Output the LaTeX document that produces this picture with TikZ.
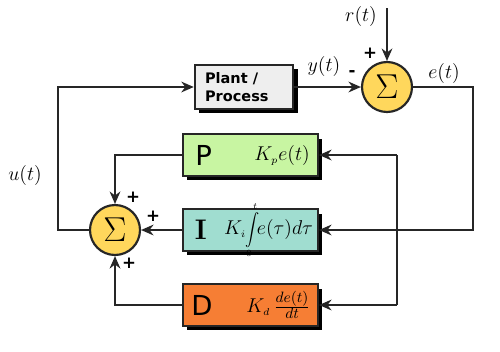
\documentclass[tikz,border=0pt]{standalone}
\usepackage{fontspec}
\newfontfamily\dv{DejaVu Sans}
\usetikzlibrary{arrows.meta,shadows}
\definecolor{pgreen}{HTML}{C8F5A2}
\definecolor{iteal}{HTML}{A0DDD0}
\definecolor{dorange}{HTML}{F67E34}
\definecolor{sumyel}{HTML}{FFD75C}
\definecolor{plantgray}{HTML}{EEEEEE}
\begin{document}
\begin{tikzpicture}[x=0.6pt,y=-0.6pt,
  blk/.style={draw=black!85, line width=1.3pt, inner sep=0pt,
    minimum width=81pt, minimum height=25pt,
    drop shadow={shadow xshift=2.6pt, shadow yshift=-2.6pt, fill=black, opacity=1}},
  sumc/.style={circle, draw=black!85, line width=1.3pt, fill=sumyel, minimum size=30pt,
    inner sep=0pt, font=\fontsize{20}{20}\selectfont},
  conn/.style={line width=0.9pt, draw=black!85},
  arr/.style={conn, -{Stealth[length=7.5pt,width=6.5pt]}},
  sig/.style={font=\dv\bfseries\fontsize{10}{10}\selectfont, inner sep=0pt},
  lbl/.style={font=\fontsize{13}{15}\selectfont, inner sep=0pt},
  letter/.style={font=\dv\fontsize{16.5}{16.5}\selectfont, inner sep=0pt, anchor=west},
  gain/.style={font=\fontsize{12.5}{14}\selectfont, inner sep=0pt, anchor=east}
]
\useasboundingbox (0,0) rectangle (500,351);

% blocks
\node[blk, fill=plantgray, minimum width=59pt, minimum height=26.4pt] (plant) at (244,87) {};
\node[anchor=west, inner sep=0pt, align=left, font=\dv\bfseries\fontsize{8.7}{10.5}\selectfont] (plantlbl) at ([xshift=6.6pt]plant.west) {Plant /\\Process};

\node[blk, fill=pgreen] (P) at (250.5,155) {};
\node[blk, fill=iteal] (I) at (250.5,230) {};
\node[blk, fill=dorange] (D) at (250.5,305) {};

\node[letter] (Pl) at ([xshift=7.8pt]P.west) {P};
\node[letter, font=\bfseries\fontsize{17}{17}\selectfont] (Il) at ([xshift=7.5pt]I.west) {I};
\node[letter] (Dl) at ([xshift=5.5pt]D.west) {D};

\node[gain] (Pg) at ([xshift=-5.4pt]P.east) {$K_{\scriptscriptstyle p}e(t)$};
\node[gain] (Ig) at ([xshift=-3.5pt]I.east) {$K_{\scriptscriptstyle i}\mkern-1mu\scalebox{0.85}[0.95]{$\displaystyle\int\limits_{\scriptscriptstyle 0}^{\scriptscriptstyle t}$}\mkern-2mu e(\tau)d\tau$};
\node[gain] (Dg) at ([xshift=-5pt]D.east) {$K_{\scriptscriptstyle d}\,\frac{de(t)}{dt}$};

% summing junctions
\node[sumc] (sumR) at (387,87) {$\Sigma$};
\node[sumc] (sumL) at (115,230) {$\Sigma$};

% helper coordinates
\coordinate (rin) at (387,8);
\coordinate (uc) at (58,230);
\coordinate (eR) at (473,230);
\coordinate (jT) at (397,155);
\coordinate (jB) at (397,305);

% connectors
\draw[arr] (rin) -- (sumR.north);
\draw[arr] (plant.east) -- (sumR.west);
\draw[arr] (sumR.east) -| (eR) -- (I.east);
\draw[conn] (jT) -- (jB);
\draw[arr] (jT) -- (P.east);
\draw[arr] (jB) -- (D.east);
\draw[arr] (P.west) -| (sumL.north);
\draw[arr] (I.west) -- (sumL.east);
\draw[arr] (D.west) -| (sumL.south);
\draw[arr] (sumL.west) -- (uc) |- (plant.west);

% labels
\node[lbl] (rt) at (361,16) {$r(t)$};
\node[lbl] (yt) at (324,66) {$y(t)$};
\node[lbl] (et) at (444,73) {$e(t)$};
\node[lbl] (ut) at (25,175) {$u(t)$};

\node[sig] (s1) at (370,53) {+};
\node[sig] (s2) at (352,73) {-};
\node[sig] (s3) at (133,197) {+};
\node[sig] (s4) at (153,216) {+};
\node[sig] (s5) at (129,263) {+};
\end{tikzpicture}
\end{document}
